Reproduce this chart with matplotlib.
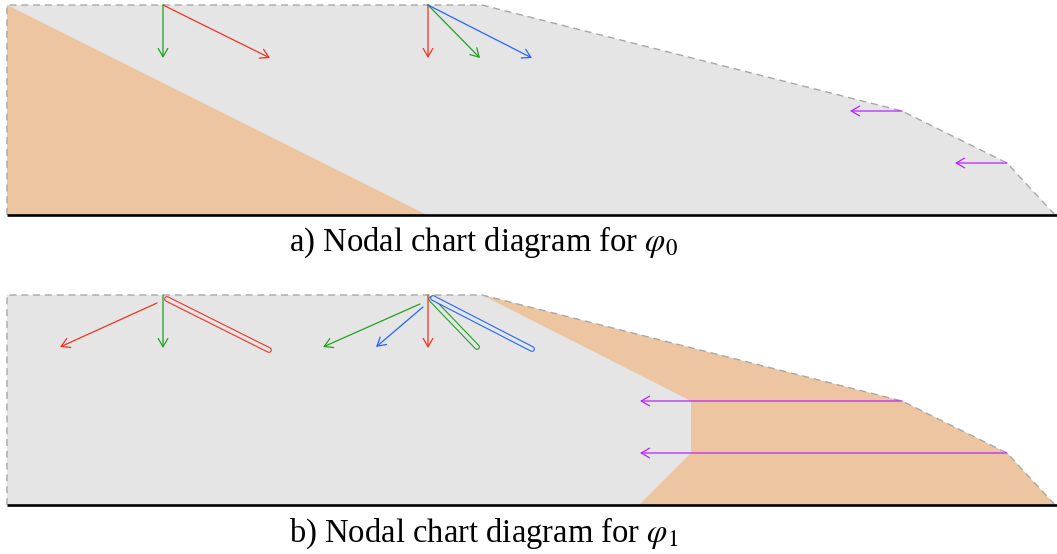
import numpy as np
import matplotlib
matplotlib.use("Agg")
import matplotlib.pyplot as plt
from matplotlib.patches import Polygon, FancyArrowPatch

plt.rcParams["font.family"] = ["Liberation Serif", "DejaVu Serif"]
plt.rcParams["mathtext.fontset"] = "stix"

# colours
GRAY = "#e5e5e5"
ORANGE = "#edc6a1"
RED = "#ee3322"
GREEN = "#22a022"
BLUE = "#2266ff"
MAGENTA = "#bb22ff"

# panel geometry in pixels (panel a); panel b is shifted down by OFFSET
OFFSET = 290
bound_x = [7, 7, 482, 902, 1007, 1055]
bound_y = [215, 5, 5, 111, 163, 215]
ground_x = [7, 1057]
ground_y = 215

# orange regions
orange_a_x = [7, 7, 427]
orange_a_y = [5, 215, 215]
orange_b_x = [482, 902, 1007, 1055, 639, 691, 691]
orange_b_y = [5, 111, 163, 215, 215, 163, 111]

# arrows: (x0, y0, x1, y1, colour)
arrows_a = [
    (163, 5, 163, 58, GREEN),
    (163, 5, 270, 58, RED),
    (428, 5, 428, 58, RED),
    (428, 5, 480, 58, GREEN),
    (428, 5, 532, 58, BLUE),
    (902, 111, 850, 111, MAGENTA),
    (1007, 163, 955, 163, MAGENTA),
]
arrows_b = [
    (157, 13, 60, 57, RED),
    (163, 5, 163, 58, GREEN),
    (420, 14, 323, 57, GREEN),
    (423, 17, 376, 57, BLUE),
    (428, 5, 428, 58, RED),
    (902, 111, 640, 111, MAGENTA),
    (1007, 163, 640, 163, MAGENTA),
]
# double (outlined) bars: (x0, y0, x1, y1, colour)
bars_b = [
    (167, 9, 269, 60, RED),
    (431, 9, 477, 57, GREEN),
    (433, 8, 532, 59, BLUE),
]

captions = [r"a) Nodal chart diagram for $\varphi_0$",
            r"b) Nodal chart diagram for $\varphi_1$"]
caption_y = [251, 542]
caption_x = 484

fig = plt.figure(figsize=(10.57, 5.54), dpi=100)
ax = fig.add_axes([0, 0, 1, 1])
ax.set_xlim(0, 1057)
ax.set_ylim(554, 0)
ax.axis("off")


def draw_panel(dy, orange_x, orange_y, arrows, bars):
    by = [v + dy for v in bound_y]
    ax.add_patch(Polygon(np.column_stack([bound_x, by]), closed=True,
                         facecolor=GRAY, edgecolor="none", zorder=1))
    oy = [v + dy for v in orange_y]
    ax.add_patch(Polygon(np.column_stack([orange_x, oy]), closed=True,
                         facecolor=ORANGE, edgecolor="none", zorder=2))
    ax.plot(bound_x, by, color="#a8a8a8", lw=1.0, ls=(0, (5, 3.5)), zorder=3)
    ax.plot(ground_x, [ground_y + dy] * 2, color="black", lw=1.9,
            solid_capstyle="butt", zorder=4)
    for x0, y0, x1, y1, c in bars:
        ax.plot([x0, x1], [y0 + dy, y1 + dy], color=c, lw=4.2,
                solid_capstyle="round", zorder=5)
        ax.plot([x0, x1], [y0 + dy, y1 + dy], color=GRAY, lw=2.6,
                solid_capstyle="round", zorder=5)
    for x0, y0, x1, y1, c in arrows:
        ax.add_patch(FancyArrowPatch((x0, y0 + dy), (x1, y1 + dy),
                                     arrowstyle="->,head_length=0.6,head_width=0.35",
                                     mutation_scale=10, shrinkA=0, shrinkB=0,
                                     color=c, lw=0.9, zorder=6))


draw_panel(0, orange_a_x, orange_a_y, arrows_a, [])
draw_panel(OFFSET, orange_b_x, orange_b_y, arrows_b, bars_b)

for txt, y in zip(captions, caption_y):
    ax.text(caption_x, y, txt, fontsize=23.5, ha="center", va="baseline")

fig.savefig("out.png", dpi=100)
